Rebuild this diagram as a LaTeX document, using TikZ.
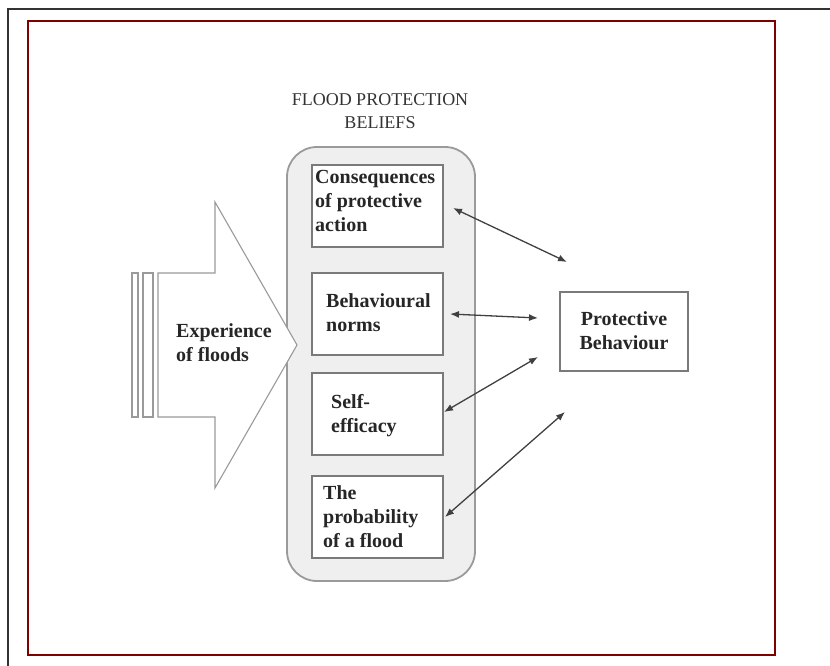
\documentclass[tikz,border=0pt]{standalone}
\usepackage{fontspec}
\setmainfont{Liberation Serif}
\usetikzlibrary{arrows.meta}

\definecolor{framered}{HTML}{800000}
\definecolor{panelgray}{HTML}{EFEFEF}
\definecolor{edgegray}{HTML}{9A9A9A}
\definecolor{boxgray}{HTML}{7A7A7A}

\tikzset{
  boxtext/.style={inner sep=0pt, align=left, anchor=west,
    font=\fontsize{20}{24}\selectfont\bfseries, text=black!85},
  beliefbox/.style={draw=boxgray, line width=1.2pt, fill=white,
    minimum width=131pt, minimum height=82pt, inner sep=0pt},
  link/.style={draw=black!75, line width=1.3pt,
    {Latex[length=9pt,width=7pt]}-{Latex[length=9pt,width=7pt]}},
}

\begin{document}
\begin{tikzpicture}[x=1pt, y=-1pt]
  \useasboundingbox (0,0) rectangle (830,666);

  % page frames
  \draw[black!80, line width=2.5pt] (8,9) rectangle (845,690);
  \draw[framered, line width=2.5pt] (28,21) rectangle (775,655);

  % container for the beliefs
  \node[draw=edgegray, line width=1.8pt, fill=panelgray, rounded corners=30pt,
        minimum width=188pt, minimum height=434pt, inner sep=0pt]
        (panel) at (381,364) {};
  \node[font=\fontsize{18}{23}\selectfont, align=center, text=black!80]
        (title) at (380,111) {FLOOD PROTECTION\\BELIEFS};

  % striped block arrow
  \draw[edgegray, line width=1.1pt, fill=white] (132,273) rectangle (138,417);
  \draw[edgegray, line width=1.1pt, fill=white] (143,273) rectangle (153,417);
  \draw[edgegray, line width=1.1pt, fill=white]
    (158,273) -- (215,273) -- (215,202) -- (297,345) -- (215,488)
    -- (215,417) -- (158,417) -- cycle;
  \node[boxtext] (exp) at (176,343) {Experience\\of floods};

  % belief boxes
  \node[beliefbox] (cons) at (377.5,206) {};
  \node[beliefbox] (norms) at (377.5,314) {};
  \node[beliefbox] (eff) at (377.5,414) {};
  \node[beliefbox] (prob) at (377.5,517) {};

  \node[boxtext] (consT) at (315,201) {Consequences\\of protective\\action};
  \node[boxtext] (normsT) at (326,313) {Behavioural\\norms};
  \node[boxtext] (effT) at (331,416) {Self-\\efficacy};
  \node[boxtext] (probT) at (323,517) {The\\probability\\of a flood};

  % outcome
  \node[draw=boxgray, line width=1.2pt, fill=white, minimum width=128pt,
        minimum height=79pt, inner sep=0pt] (beh) at (624,331.5) {};
  \node[boxtext, anchor=center, align=center] (behT) at (624,331)
        {Protective\\Behaviour};

  % connector ends
  \coordinate (a1l) at (453,208);
  \coordinate (a1r) at (567,262);
  \coordinate (a2l) at (450,314);
  \coordinate (a2r) at (538,318);
  \coordinate (a3l) at (444,412);
  \coordinate (a3r) at (538,357);
  \coordinate (a4l) at (445,517);
  \coordinate (a4r) at (565,412);

  \draw[link] (a1l) -- (a1r);
  \draw[link] (a2l) -- (a2r);
  \draw[link] (a3l) -- (a3r);
  \draw[link] (a4l) -- (a4r);
\end{tikzpicture}
\end{document}
